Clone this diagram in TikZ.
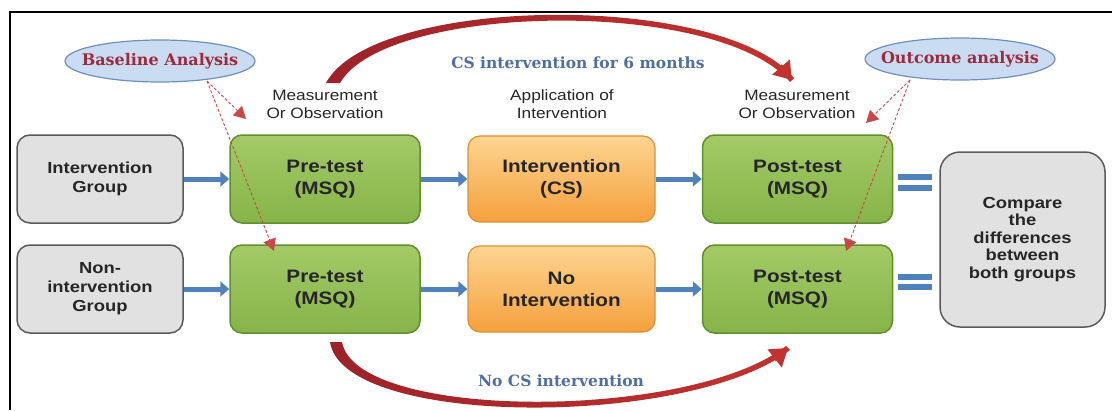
\documentclass[tikz,border=0pt]{standalone}
\usepackage{fontspec}
\setmainfont{Liberation Sans}[FakeStretch=1.15]
\newfontfamily\titlefont{DejaVu Serif}
\usetikzlibrary{arrows.meta,shapes.geometric,calc}

\definecolor{txt}{HTML}{262626}
\definecolor{grayfill}{HTML}{E1E1E1}
\definecolor{grayline}{HTML}{5A5A5A}
\definecolor{greentop}{HTML}{A3CA66}
\definecolor{greenbot}{HTML}{86B449}
\definecolor{greenline}{HTML}{5F8F2F}
\definecolor{orangetop}{HTML}{FDD592}
\definecolor{orangebot}{HTML}{F5A03C}
\definecolor{orangeline}{HTML}{E08F30}
\definecolor{flowblue}{HTML}{4F81BD}
\definecolor{arcdark}{HTML}{9C2329}
\definecolor{arcred}{HTML}{C2332F}
\definecolor{dashred}{HTML}{C8484A}
\definecolor{ellfill}{HTML}{C9DCF1}
\definecolor{ellline}{HTML}{6F90BD}
\definecolor{maroon}{HTML}{9E2A3E}
\definecolor{slateblue}{HTML}{4E6EA6}

\begin{document}
\begin{tikzpicture}[x=1pt,y=-1pt,
  grpbox/.style={draw=grayline, fill=grayfill, line width=1.5pt, rounded corners=13pt,
    minimum width=166pt, minimum height=88pt, align=center, text=txt,
    font=\fontsize{16}{19}\selectfont\bfseries},
  testbox/.style={draw=greenline, top color=greentop, bottom color=greenbot, line width=1.5pt,
    rounded corners=12pt, minimum width=190pt, minimum height=88pt, align=center, text=txt,
    font=\fontsize{18}{22}\selectfont\bfseries},
  ivbox/.style={draw=orangeline, top color=orangetop, bottom color=orangebot, line width=1.2pt,
    rounded corners=12pt, minimum width=187pt, minimum height=86pt, align=center, text=txt,
    font=\fontsize{18}{22}\selectfont\bfseries},
  cmpbox/.style={draw=grayline, fill=grayfill, line width=1.5pt, rounded corners=20pt,
    minimum width=165pt, minimum height=175pt, align=center, text=txt,
    font=\fontsize{16}{17.5}\selectfont\bfseries},
  phase/.style={align=center, text=txt, font=\fontsize{15}{18}\selectfont},
  analysis/.style={ellipse, draw=ellline, fill=ellfill, line width=1.2pt,
    inner xsep=-25pt, inner ysep=0pt,
    minimum width=190pt, minimum height=42pt, text=maroon,
    font=\titlefont\bfseries\fontsize{16}{19}\selectfont},
  period/.style={text=slateblue, font=\titlefont\bfseries\fontsize{15.5}{18}\selectfont},
  flow/.style={draw=flowblue, line width=5pt, -{Triangle[length=9pt,width=15pt]}},
  eqbar/.style={draw=flowblue, line width=6pt},
  arcbody/.style={left color=arcdark, right color=arcred},
  arctip/.style={draw=arcred, line width=5pt, -{Triangle[length=17pt,width=22pt]}},
  pointer/.style={draw=dashred, line width=0.9pt, dash pattern=on 3pt off 2pt,
    -{Triangle[length=12pt,width=13pt]}}
]
\useasboundingbox (0,0) rectangle (1112,410);

% frame
\draw[line width=1.5pt] (10,410) -- (10,12) -- (1112,12);

% group boxes
\node[grpbox] (ig) at (100,179) {Intervention\\Group};
\node[grpbox] (ng) at (100,289) {Non-\\intervention\\Group};

% measurement and intervention boxes
\node[testbox] (pre1) at (325,179) {Pre-test\\(MSQ)};
\node[testbox] (pre2) at (325,289) {Pre-test\\(MSQ)};
\node[ivbox] (int1) at (561.5,179) {Intervention\\(CS)};
\node[ivbox] (int2) at (561.5,289) {No\\Intervention};
\node[testbox] (post1) at (797.5,179) {Post-test\\(MSQ)};
\node[testbox] (post2) at (797.5,289) {Post-test\\(MSQ)};

% comparison box
\node[cmpbox] (cmp) at (1022.5,239.5) {Compare\\the\\differences\\between\\both groups};

% phase headings
\node[phase] (ph1) at (325,104) {Measurement\\Or Observation};
\node[phase] (ph2) at (562,104) {Application of\\Intervention};
\node[phase] (ph3) at (797,104) {Measurement\\Or Observation};

% analysis ellipses
\node[analysis] (ba) at (160,61) {Baseline Analysis};
\node[analysis] (oa) at (960,59) {Outcome analysis};

% period labels
\node[period] (cs) at (578,63) {CS intervention for 6 months};
\node[period] (nocs) at (561,381) {No CS intervention};

% flow arrows
\draw[flow] (ig) -- (pre1);
\draw[flow] (pre1) -- (int1);
\draw[flow] (int1) -- (post1);
\draw[flow] (ng) -- (pre2);
\draw[flow] (pre2) -- (int2);
\draw[flow] (int2) -- (post2);

% equals signs
\draw[eqbar] ($(post1.east)+(5,-2)$) -- ($(post1.east -| cmp.west)+(-7,-2)$);
\draw[eqbar] ($(post1.east)+(5,9)$) -- ($(post1.east -| cmp.west)+(-7,9)$);
\draw[eqbar] ($(post2.east)+(5,-12)$) -- ($(post2.east -| cmp.west)+(-7,-12)$);
\draw[eqbar] ($(post2.east)+(5,-2)$) -- ($(post2.east -| cmp.west)+(-7,-2)$);

% period arcs: tapered bodies with arrow tips
\coordinate (a1e) at (792,80);
\coordinate (a1m) at (780,66);
\coordinate (a2e) at (788,348);
\coordinate (a2m) at (774,359);
\shade[arcbody] (326,83) .. controls (373,-5) and (722,-9) .. (794,78)
  -- (790,82) .. controls (718,-3) and (386,3) .. (340,83) -- cycle;
\draw[arctip] (a1m) -- (a1e);
\shade[arcbody] (330,342) .. controls (343,428) and (690,428) .. (790,350)
  -- (786,346) .. controls (690,421) and (356,421) .. (342,342) -- cycle;
\draw[arctip] (a2m) -- (a2e);

% analysis pointers
\coordinate (bas) at (207,81);
\coordinate (bt1) at (246,119);
\coordinate (bt2) at (274,251);
\coordinate (oas) at (910,80);
\coordinate (ot1) at (866,123);
\coordinate (ot2) at (846,251);
\draw[pointer] (bas) -- (bt1);
\draw[pointer] (bas) -- (bt2);
\draw[pointer] (oas) -- (ot1);
\draw[pointer] (oas) -- (ot2);
\end{tikzpicture}
\end{document}
